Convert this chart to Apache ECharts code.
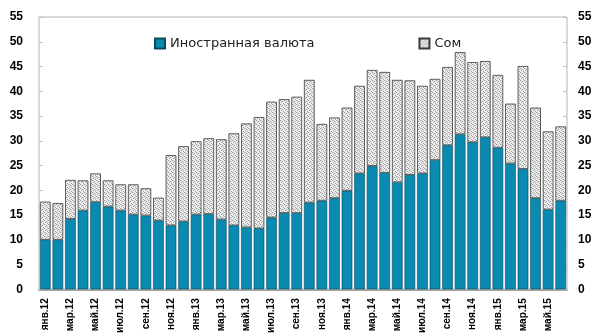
<!DOCTYPE html>
<html>
<head>
<meta charset="utf-8">
<script src="https://cdn.jsdelivr.net/npm/echarts@6/dist/echarts.min.js"></script>
<style>
  html, body { margin: 0; padding: 0; background: #fff; }
  #chart { width: 595px; height: 336px; }
</style>
</head>
<body>
<div id="chart"></div>
<script>
// Monthly periods, Jan 2012 – Jun 2015
const months = [
  'янв.12','фев.12','мар.12','апр.12','май.12','июн.12','июл.12','авг.12','сен.12','окт.12','ноя.12','дек.12',
  'янв.13','фев.13','мар.13','апр.13','май.13','июн.13','июл.13','авг.13','сен.13','окт.13','ноя.13','дек.13',
  'янв.14','фев.14','мар.14','апр.14','май.14','июн.14','июл.14','авг.14','сен.14','окт.14','ноя.14','дек.14',
  'янв.15','фев.15','мар.15','апр.15','май.15','июн.15'
];

// Foreign currency part
const foreignCurrency = [
  10.0, 10.0, 14.2, 15.9, 17.6, 16.7, 15.9, 15.1, 14.9, 13.9, 12.9, 13.7,
  15.1, 15.2, 14.1, 12.9, 12.5, 12.3, 14.5, 15.4, 15.4, 17.5, 17.9, 18.4,
  19.9, 23.4, 24.9, 23.5, 21.6, 23.1, 23.4, 26.1, 29.1, 31.3, 29.7, 30.7,
  28.6, 25.4, 24.3, 18.4, 16.1, 17.9
];

// National currency (som) part
const som = [
  7.7, 7.4, 7.9, 6.1, 5.8, 5.3, 5.3, 6.1, 5.5, 4.6, 14.2, 15.2,
  14.8, 15.3, 16.2, 18.6, 21.0, 22.5, 23.4, 23.0, 23.5, 24.8, 15.5, 16.3,
  16.8, 17.7, 19.4, 20.4, 20.7, 19.1, 17.7, 16.4, 15.8, 16.6, 16.2, 15.4,
  14.7, 12.1, 20.8, 18.3, 15.8, 15.0
];

const seriesNames = ['Иностранная валюта', 'Сом'];

// Fine stippled fill for the som bars
function dotPattern() {
  const c = document.createElement('canvas');
  c.width = 4; c.height = 4;
  const g = c.getContext('2d');
  g.fillStyle = '#f0f0f0';
  g.fillRect(0, 0, 4, 4);
  g.fillStyle = '#9a9a9a';
  g.fillRect(0, 0, 1, 1);
  g.fillRect(2, 1, 1, 1);
  g.fillRect(1, 2, 1, 1);
  g.fillRect(3, 3, 1, 1);
  g.fillStyle = '#d0d0d0';
  g.fillRect(3, 1, 1, 1);
  g.fillRect(1, 0, 1, 1);
  return c;
}

const axisLabelStyle = {
  color: '#000',
  fontFamily: 'Liberation Sans',
  fontWeight: 'bold',
  fontSize: 12
};

const chart = echarts.init(document.getElementById('chart'), null, { renderer: 'canvas' });

chart.setOption({
  animation: false,
  backgroundColor: '#fff',
  grid: {
    left: 39, right: 28, top: 17, bottom: 44,
    show: true, borderColor: '#b4b4b4', borderWidth: 1
  },
  legend: {
    top: 32, left: 149,
    itemWidth: 10, itemHeight: 10, itemGap: 104,
    icon: 'rect',
    textStyle: { color: '#222', fontFamily: 'DejaVu Sans', fontSize: 13 },
    data: seriesNames
  },
  xAxis: {
    type: 'category',
    data: months,
    axisLine: { show: true, lineStyle: { color: '#a8a8a8', width: 2 } },
    axisTick: { show: false },
    axisLabel: {
      interval: 1, rotate: 90, margin: 9,
      color: '#000', fontFamily: 'Liberation Sans', fontWeight: 'bold', fontSize: 10
    }
  },
  yAxis: [
    {
      type: 'value', min: 0, max: 55, interval: 5, position: 'left',
      axisLine: { show: false },
      axisTick: { show: true, inside: true, length: 4, lineStyle: { color: '#c0c0c0' } },
      splitLine: { show: false },
      axisLabel: Object.assign({ margin: 16 }, axisLabelStyle)
    },
    {
      type: 'value', min: 0, max: 55, interval: 5, position: 'right',
      axisLine: { show: false },
      axisTick: { show: true, inside: true, length: 4, lineStyle: { color: '#c0c0c0' } },
      splitLine: { show: false },
      axisLabel: Object.assign({ margin: 11 }, axisLabelStyle)
    }
  ],
  series: [
    {
      name: seriesNames[0],
      type: 'bar',
      stack: 'total',
      data: foreignCurrency,
      barCategoryGap: '15%',
      itemStyle: { color: '#0a8ab0', borderColor: '#0b4a5e', borderWidth: 0.6 }
    },
    {
      name: seriesNames[1],
      type: 'bar',
      stack: 'total',
      data: som,
      barCategoryGap: '15%',
      itemStyle: {
        color: { image: dotPattern(), repeat: 'repeat' },
        borderColor: '#3a3a3a', borderWidth: 0.8
      }
    }
  ]
});
</script>
</body>
</html>
